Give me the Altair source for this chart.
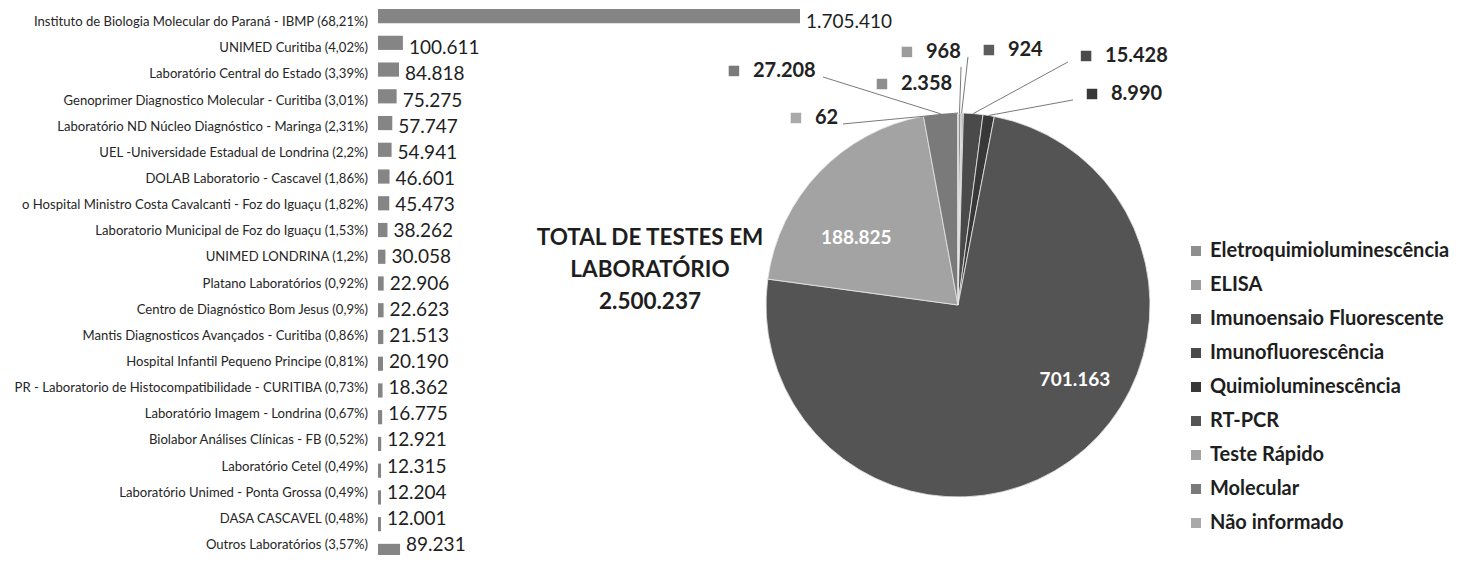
import math
import altair as alt
import pandas as pd

# ---------------- data ----------------
lab_names = [
    "Instituto de Biologia Molecular do Paraná - IBMP (68,21%)",
    "UNIMED Curitiba (4,02%)",
    "Laboratório Central do Estado (3,39%)",
    "Genoprimer Diagnostico Molecular - Curitiba (3,01%)",
    "Laboratório ND Núcleo Diagnóstico - Maringa (2,31%)",
    "UEL -Universidade Estadual de Londrina (2,2%)",
    "DOLAB Laboratorio - Cascavel (1,86%)",
    "o Hospital Ministro Costa Cavalcanti - Foz do Iguaçu (1,82%)",
    "Laboratorio Municipal de Foz do Iguaçu  (1,53%)",
    "UNIMED LONDRINA (1,2%)",
    "Platano Laboratórios (0,92%)",
    "Centro de Diagnóstico Bom Jesus (0,9%)",
    "Mantis Diagnosticos Avançados - Curitiba (0,86%)",
    "Hospital Infantil Pequeno Principe (0,81%)",
    "PR - Laboratorio de Histocompatibilidade - CURITIBA (0,73%)",
    "Laboratório Imagem - Londrina (0,67%)",
    "Biolabor Análises Clínicas - FB (0,52%)",
    "Laboratório Cetel (0,49%)",
    "Laboratório Unimed - Ponta Grossa (0,49%)",
    "DASA CASCAVEL (0,48%)",
    "Outros Laboratórios (3,57%)",
]
lab_tests = [1705410, 100611, 84818, 75275, 57747, 54941, 46601, 45473, 38262,
             30058, 22906, 22623, 21513, 20190, 18362, 16775, 12921, 12315,
             12204, 12001, 89231]

metodos = ["Eletroquimioluminescência", "ELISA", "Imunoensaio Fluorescente",
           "Imunofluorescência", "Quimioluminescência", "RT-PCR", "Teste Rápido",
           "Molecular", "Não informado"]
metodo_tests = [2358, 968, 924, 15428, 8990, 701163, 188825, 27208, 62]

total_lines = ["TOTAL DE TESTES EM", "LABORATÓRIO", "2.500.237"]

# ---------------- styles / layout ----------------
metodo_colors = ["#8e8e8e", "#9c9c9c", "#5c5c5c", "#4a4a4a", "#383838",
                 "#545454", "#a3a3a3", "#7a7a7a", "#a9a9a9"]
BAR_COLOR = "#858585"
W, H = 1448, 547
BAR_X0, BAR_X1 = 370, 792            # pixel span of the bar value scale
BAR_Y0, BAR_Y1 = 1, 550              # pixel span of the category band scale
PIE_CX, PIE_CY, PIE_R = 950, 297, 192

# external label squares (pie-radius units, relative to pie centre)
LABEL_POS = {
    "Eletroquimioluminescência": (-0.396, 1.151),
    "ELISA": (-0.266, 1.318),
    "Imunoensaio Fluorescente": (0.161, 1.328),
    "Imunofluorescência": (0.667, 1.297),
    "Quimioluminescência": (0.698, 1.099),
    "Molecular": (-1.167, 1.219),
    "Não informado": (-0.844, 0.974),
}
LEADER_FROM = {
    "Eletroquimioluminescência": (0.016, 1.240),
    "ELISA": (0.052, 1.292),
    "Imunofluorescência": (0.573, 1.266),
    "Quimioluminescência": (0.599, 1.068),
    "Molecular": (-0.703, 1.1875),
    "Não informado": (-0.599, 0.943),
}
INSIDE_POS = {"RT-PCR": (0.609, -0.391), "Teste Rápido": (-0.53, 0.349)}


def br(n):
    return f"{n:,}".replace(",", ".")


# ---------------- bar chart ----------------
bar_df = pd.DataFrame({"lab": lab_names, "tests": lab_tests,
                       "rot": [br(v) for v in lab_tests]})
xs = alt.Scale(domain=[0, max(lab_tests)], range=[BAR_X0, BAR_X1], nice=False, zero=True)
ys = alt.Scale(domain=lab_names, range=[BAR_Y0, BAR_Y1], paddingInner=0.47, paddingOuter=0.0)

bbase = alt.Chart(bar_df).encode(y=alt.Y("lab:N", sort=lab_names, scale=ys, axis=None))
bars = bbase.mark_bar(color=BAR_COLOR).encode(x=alt.X("tests:Q", scale=xs, axis=None))
names = bbase.transform_calculate(zero="0").mark_text(
    align="right", baseline="middle", dx=-10, fontSize=13.1, color="#262626", font="Lato"
).encode(x=alt.X("zero:Q", scale=xs, axis=None), text="lab:N")
values = bbase.mark_text(
    align="left", baseline="middle", dx=6, fontSize=19, color="#1e1e1e", font="Lato"
).encode(x=alt.X("tests:Q", scale=xs, axis=None), text="rot:N")

# ---------------- pie ----------------
pie_total = sum(metodo_tests)
cum = 0
rows = []
for i, (m, v, c) in enumerate(zip(metodos, metodo_tests, metodo_colors)):
    mid = (cum + v / 2) / pie_total * 2 * math.pi
    cum += v
    rows.append({"idx": i, "metodo": m, "tests": v, "rot": br(v), "hex": c,
                 "ex": math.sin(mid), "ey": math.cos(mid)})
pie_df = pd.DataFrame(rows)

arcs = alt.Chart(pie_df).mark_arc(radius=PIE_R, stroke="#e8e8e8", strokeWidth=0.8).encode(
    theta=alt.Theta("tests:Q", stack=True),
    order=alt.Order("idx:Q"),
    color=alt.Color("metodo:N", sort=metodos,
                    scale=alt.Scale(domain=metodos, range=metodo_colors),
                    legend=alt.Legend(orient="none", legendX=1178, legendY=233, title=None,
                                      symbolType="square", symbolSize=100, symbolStrokeWidth=0,
                                      labelFont="Lato", labelFontSize=20, labelFontWeight="bold",
                                      labelColor="#1e1e1e", labelOffset=4, rowPadding=14,
                                      padding=0, labelLimit=400)),
    x=alt.value(PIE_CX), y=alt.value(PIE_CY),
)

ux = alt.Scale(domain=[-1, 1], range=[PIE_CX - PIE_R, PIE_CX + PIE_R], nice=False, zero=False)
uy = alt.Scale(domain=[-1, 1], range=[PIE_CY + PIE_R, PIE_CY - PIE_R], nice=False, zero=False)

ann_rows, lead_rows, in_rows = [], [], []
for r in rows:
    m = r["metodo"]
    if m in LABEL_POS:
        ann_rows.append({"ux": LABEL_POS[m][0], "uy": LABEL_POS[m][1], "rot": r["rot"], "hex": r["hex"]})
    if m in LEADER_FROM:
        lead_rows.append({"k": m, "end": 0, "lx": LEADER_FROM[m][0], "ly": LEADER_FROM[m][1]})
        lead_rows.append({"k": m, "end": 1, "lx": r["ex"], "ly": r["ey"]})
    if m in INSIDE_POS:
        in_rows.append({"ux": INSIDE_POS[m][0], "uy": INSIDE_POS[m][1], "rot": r["rot"]})
ann_df = pd.DataFrame(ann_rows)
lead_df = pd.DataFrame(lead_rows)
in_df = pd.DataFrame(in_rows)

leaders = alt.Chart(lead_df).mark_line(color="#7a7a7a", strokeWidth=1).encode(
    x=alt.X("lx:Q", scale=ux, axis=None), y=alt.Y("ly:Q", scale=uy, axis=None),
    detail="k:N", order="end:Q")
squares = alt.Chart(ann_df).mark_square(size=110, opacity=1).encode(
    x=alt.X("ux:Q", scale=ux, axis=None), y=alt.Y("uy:Q", scale=uy, axis=None),
    color=alt.Color("hex:N", scale=None))
ann_text = alt.Chart(ann_df).mark_text(
    align="left", baseline="middle", dx=19, fontSize=20, fontWeight="bold",
    color="#222222", font="Lato").encode(
    x=alt.X("ux:Q", scale=ux, axis=None), y=alt.Y("uy:Q", scale=uy, axis=None), text="rot:N")
in_text = alt.Chart(in_df).mark_text(
    align="center", baseline="middle", fontSize=19, fontWeight="bold",
    color="white", font="Lato").encode(
    x=alt.X("ux:Q", scale=ux, axis=None), y=alt.Y("uy:Q", scale=uy, axis=None), text="rot:N")

total_text = alt.Chart(pd.DataFrame({"t": ["\n".join(total_lines)]})).mark_text(
    lineBreak="\n", lineHeight=32, fontSize=22.5, fontWeight="bold", align="center",
    baseline="middle", color="#1e1e1e", font="Lato").encode(
    x=alt.value(642), y=alt.value(230), text="t:N")

chart = alt.layer(
    bars, names, values, arcs, leaders, squares, ann_text, in_text, total_text
).resolve_scale(x="independent", y="independent", color="independent").properties(
    width=W, height=H,
    padding={"left": 0, "right": 0, "top": 0, "bottom": 0},
    autosize=alt.AutoSizeParams(type="none"),
).configure(font="Lato").configure_view(stroke=None, strokeWidth=0).configure_axis(
    domain=False, grid=False, ticks=False, labels=False
)

chart.save("out.html", embed_options={"renderer": "svg", "actions": False})
